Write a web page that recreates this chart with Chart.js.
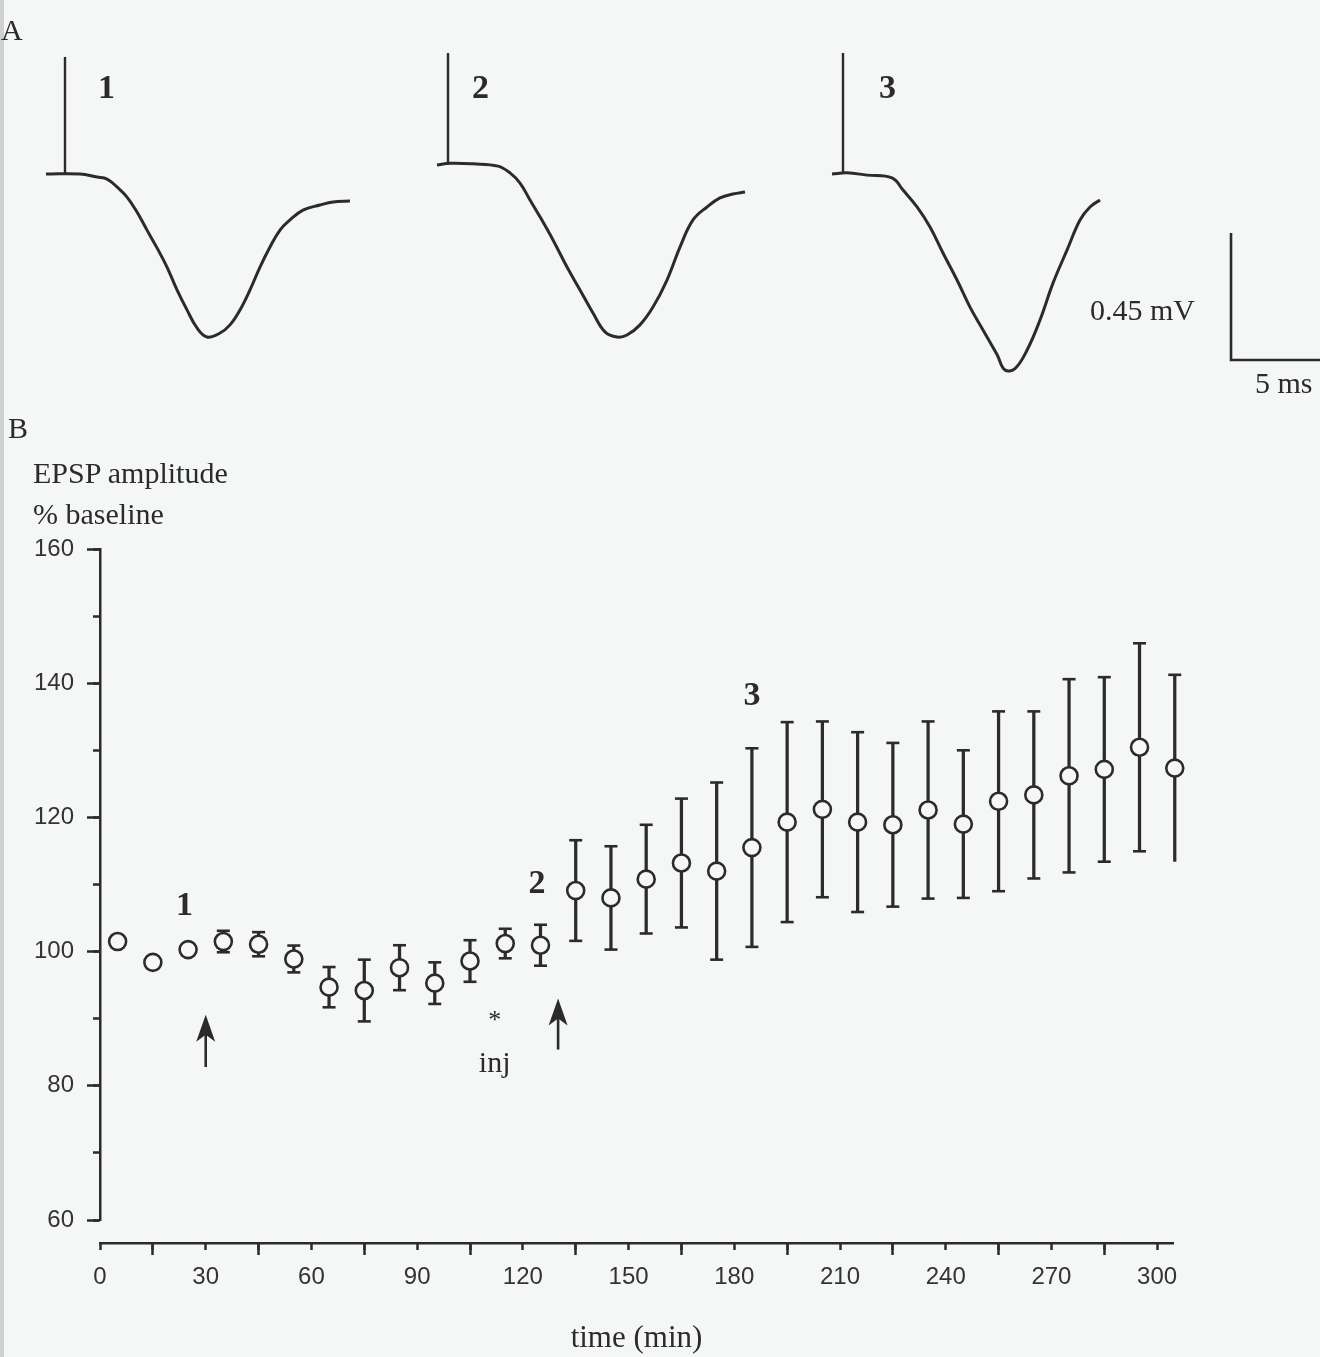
<!DOCTYPE html>
<html>
<head>
<meta charset="utf-8">
<script src="https://cdn.jsdelivr.net/npm/chart.js@4.4.1/dist/chart.umd.min.js"></script>
<style>
  html, body { margin: 0; padding: 0; background: #f5f6f6; }
  body { width: 1320px; height: 1357px; position: relative; overflow: hidden;
         font-family: 'Liberation Serif', 'Times New Roman', serif; color: #2b2b2b; }
  canvas { position: absolute; left: 0; }
  #traces { top: 0; }
  #timecourse { top: 400px; }
  .lbl { position: absolute; font-size: 30px; line-height: 1; white-space: nowrap; }
  .num { position: absolute; font-size: 34px; line-height: 1; font-weight: bold; }
  .edge { position: absolute; left: 0; top: 0; width: 4px; height: 100%; background: #cfd1d1; }
</style>
</head>
<body>
<div class="edge"></div>
<canvas id="traces" width="1320" height="400"></canvas>
<canvas id="timecourse" width="1320" height="957"></canvas>

<div class="lbl" style="left:1px; top:15px;">A</div>
<div class="num" style="left:98px; top:70px;">1</div>
<div class="num" style="left:472px; top:70px;">2</div>
<div class="num" style="left:879px; top:70px;">3</div>
<div class="lbl" id="mvLabel" style="left:1090px; top:295px;"></div>
<div class="lbl" id="msLabel" style="left:1255px; top:368px;"></div>

<div class="lbl" style="left:8px; top:413px;">B</div>
<div class="lbl" style="left:33px; top:458px;">EPSP amplitude</div>
<div class="lbl" style="left:33px; top:499px;">% baseline</div>

<script>
// ---- panel A: field EPSP sweeps (time in ms after stimulus, amplitude in mV) ----
const trace1Ms = [-0.95, 0.75, 1.6, 2.1, 2.6, 3.1, 3.6, 4.1, 4.6, 5.1, 5.6, 6.1, 6.6, 7.1, 7.75, 8.25, 8.75, 9.25, 9.75, 10.25, 10.75, 11.25, 11.9, 12.75, 13.4, 14.25];
const trace1Mv = [0, 0, -0.011, -0.018, -0.046, -0.082, -0.135, -0.199, -0.262, -0.330, -0.411, -0.482, -0.546, -0.578, -0.564, -0.535, -0.482, -0.411, -0.330, -0.259, -0.199, -0.163, -0.128, -0.110, -0.099, -0.096];
const trace2Ms = [-0.55, 0.1, 1.25, 2.5, 3.1, 3.6, 4.1, 4.6, 5.25, 5.95, 6.6, 7.25, 7.85, 8.45, 8.95, 9.6, 10.25, 10.95, 11.6, 12.25, 12.95, 13.6, 14.25, 14.85];
const trace2Mv = [0, 0.006, 0.004, -0.004, -0.028, -0.064, -0.124, -0.184, -0.266, -0.362, -0.443, -0.525, -0.592, -0.610, -0.603, -0.567, -0.504, -0.408, -0.291, -0.195, -0.149, -0.117, -0.103, -0.096];
const trace3Ms = [-0.55, 0.2, 1.2, 2.45, 3.0, 3.7, 4.35, 5.0, 5.7, 6.35, 7.0, 7.7, 8.1, 8.6, 9.2, 9.85, 10.5, 11.2, 11.85, 12.35, 12.85];
const trace3Mv = [0, 0.004, -0.004, -0.014, -0.057, -0.117, -0.188, -0.280, -0.376, -0.472, -0.553, -0.640, -0.695, -0.690, -0.625, -0.518, -0.387, -0.270, -0.163, -0.117, -0.092];
const artifactMv = [0.415, 0.397, 0.429];   // truncated stimulus artefacts
const scaleBarMv = 0.45;
const scaleBarMs = 5;

// ---- panel B: EPSP amplitude over time ----
const times = [5, 15, 25, 35, 45, 55, 65, 75, 85, 95, 105, 115, 125, 135, 145, 155, 165, 175, 185, 195, 205, 215, 225, 235, 245, 255, 265, 275, 285, 295, 305];
const epsp = [101.5, 98.4, 100.3, 101.5, 101.1, 98.9, 94.7, 94.2, 97.6, 95.3, 98.6, 101.2, 100.95, 109.1, 108.0, 110.8, 113.2, 112.0, 115.5, 119.3, 121.2, 119.3, 118.9, 121.1, 119.0, 122.4, 123.35, 126.2, 127.15, 130.45, 127.35];
const sem = [0.5, 0.5, 0.8, 1.6, 1.8, 2.0, 3.0, 4.6, 3.35, 3.1, 3.1, 2.2, 3.05, 7.5, 7.7, 8.1, 9.6, 13.2, 14.8, 14.9, 13.1, 13.4, 12.2, 13.2, 11.0, 13.4, 12.45, 14.4, 13.75, 15.5, 13.9];
const xTicks = [0, 30, 60, 90, 120, 150, 180, 210, 240, 270, 300];
const xMinorTicks = [0, 15, 30, 45, 60, 75, 90, 105, 120, 135, 150, 165, 180, 195, 210, 225, 240, 255, 270, 285, 300];
const yTicks = [60, 80, 100, 120, 140, 160];
const yMinorTicks = [60, 70, 80, 90, 100, 110, 120, 130, 140, 150, 160];

const ink = '#2b2b2b';
const paper = '#f5f6f6';

document.getElementById('mvLabel').textContent = scaleBarMv + ' mV';
document.getElementById('msLabel').textContent = scaleBarMs + ' ms';

// where each sweep sits on the panel (ms, mV in panel units)
const sweepAnchors = [{x: 3.25, y: -0.617}, {x: 22.4, y: -0.585}, {x: 42.15, y: -0.617}];
const scaleBarCorner = {x: 61.55, y: -1.2766};

const sweeps = [[trace1Ms, trace1Mv], [trace2Ms, trace2Mv], [trace3Ms, trace3Mv]];
const traceSets = [];
sweeps.forEach(([ms, mv], i) => {
  const a = sweepAnchors[i];
  traceSets.push({
    data: ms.map((t, j) => ({x: a.x + t, y: a.y + mv[j]})),
    showLine: true, tension: 0.4,
    borderColor: ink, borderWidth: 3, pointRadius: 0
  });
  traceSets.push({
    data: [{x: a.x, y: a.y}, {x: a.x, y: a.y + artifactMv[i]}],
    showLine: true, borderColor: ink, borderWidth: 2.4, pointRadius: 0
  });
});
traceSets.push({
  data: [
    {x: scaleBarCorner.x, y: scaleBarCorner.y + scaleBarMv},
    {x: scaleBarCorner.x, y: scaleBarCorner.y},
    {x: scaleBarCorner.x + scaleBarMs, y: scaleBarCorner.y}
  ],
  showLine: true, borderColor: ink, borderWidth: 2.6, pointRadius: 0, borderJoinStyle: 'miter'
});

new Chart(document.getElementById('traces'), {
  type: 'scatter',
  data: {datasets: traceSets},
  options: {
    responsive: false, animation: false,
    layout: {padding: 0},
    plugins: {legend: {display: false}, tooltip: {enabled: false}},
    scales: {
      x: {type: 'linear', display: false, min: 0, max: 66},
      y: {type: 'linear', display: false, min: -400 / 282, max: 0}
    }
  }
});

// arrows (stimulus) and marks on the time course
const stimArrows = [{t: 30, from: 82.8, to: 90.6}, {t: 130, from: 85.4, to: 93.0}];
const plotMarks = [
  {text: '1', t: 24, v: 106.7, font: 'bold 34px "Liberation Serif"'},
  {text: '2', t: 124, v: 110.0, font: 'bold 34px "Liberation Serif"'},
  {text: '3', t: 185, v: 138.1, font: 'bold 34px "Liberation Serif"'},
  {text: '*', t: 112, v: 89.6, font: '26px "Liberation Serif"'},
  {text: 'inj', t: 112, v: 83.3, font: '30px "Liberation Serif"'}
];

const marksPlugin = {
  id: 'marks',
  afterDatasetsDraw(chart) {
    const {ctx, scales: {x, y}} = chart;
    ctx.save();
    ctx.fillStyle = ink;
    ctx.strokeStyle = ink;
    ctx.lineWidth = 2.6;
    stimArrows.forEach(a => {
      const px = x.getPixelForValue(a.t);
      const tip = y.getPixelForValue(a.to);
      const tail = y.getPixelForValue(a.from);
      ctx.beginPath();
      ctx.moveTo(px, tail);
      ctx.lineTo(px, tip + 18);
      ctx.stroke();
      ctx.beginPath();
      ctx.moveTo(px, tip);
      ctx.lineTo(px + 9.5, tip + 27);
      ctx.lineTo(px, tip + 20);
      ctx.lineTo(px - 9.5, tip + 27);
      ctx.closePath();
      ctx.fill();
    });
    ctx.textAlign = 'center';
    ctx.textBaseline = 'middle';
    plotMarks.forEach(m => {
      ctx.font = m.font;
      ctx.fillText(m.text, x.getPixelForValue(m.t), y.getPixelForValue(m.v));
    });
    ctx.restore();
  }
};

const tickFont = {family: '"Liberation Sans", Arial, sans-serif', size: 24};

new Chart(document.getElementById('timecourse'), {
  type: 'scatter',
  data: {
    datasets: [
      {
        // mean EPSP amplitude
        data: times.map((t, i) => ({x: t, y: epsp[i]})),
        pointStyle: 'circle', pointRadius: 8.5, borderWidth: 2.6,
        borderColor: ink, backgroundColor: paper, order: 0, clip: false
      },
      {
        // SEM caps
        data: times.flatMap((t, i) => [{x: t, y: epsp[i] + sem[i]}, {x: t, y: epsp[i] - sem[i]}]),
        pointStyle: 'line', pointRadius: 6.5, borderWidth: 2.6,
        borderColor: ink, order: 1, clip: false
      },
      {
        // SEM bars
        type: 'bar',
        data: times.map((t, i) => ({x: t, y: [epsp[i] - sem[i], epsp[i] + sem[i]]})),
        backgroundColor: ink, barThickness: 2.6, borderWidth: 0, order: 2, clip: false
      }
    ]
  },
  options: {
    responsive: false, animation: false,
    layout: {padding: {top: 149, right: 147, bottom: 0, left: 0}},
    plugins: {legend: {display: false}, tooltip: {enabled: false}},
    scales: {
      x: {
        type: 'linear', position: 'bottom', weight: 2, min: 0, max: 304.5, offset: false,
        afterBuildTicks: s => { s.ticks = xTicks.map(v => ({value: v})); },
        afterFit: s => { s.height = 114; },
        grid: {drawOnChartArea: false, drawTicks: true, tickLength: 12, tickWidth: 2.5, tickColor: ink},
        border: {display: true, color: ink, width: 2.5},
        ticks: {font: tickFont, color: '#333', padding: 8, maxRotation: 0, autoSkip: false},
        title: {display: true, text: 'time (min)', color: ink,
                font: {family: '"Liberation Serif", serif', size: 31}, padding: {top: 0, bottom: 0}}
      },
      xMinor: {
        type: 'linear', position: 'bottom', weight: 1, min: 0, max: 304.5, offset: false,
        afterBuildTicks: s => { s.ticks = xMinorTicks.map(v => ({value: v})); },
        afterFit: s => { s.height = 0; },
        grid: {drawOnChartArea: false, drawTicks: true, tickLength: 7, tickWidth: 2.5, tickColor: ink},
        border: {display: false},
        ticks: {display: false}
      },
      xGap: {
        type: 'linear', position: 'bottom', weight: 0, min: 0, max: 304.5,
        afterFit: s => { s.height = 23; },
        grid: {display: false}, border: {display: false}, ticks: {display: false}
      },
      y: {
        type: 'linear', position: 'left', weight: 1, min: 60, max: 160,
        afterBuildTicks: s => { s.ticks = yTicks.map(v => ({value: v})); },
        afterFit: s => { s.width = 100; },
        grid: {drawOnChartArea: false, drawTicks: true, tickLength: 13, tickWidth: 2.5, tickColor: ink},
        border: {display: true, color: ink, width: 2.5},
        ticks: {font: tickFont, color: '#333', padding: 13}
      },
      yMinor: {
        type: 'linear', position: 'left', weight: 0, min: 60, max: 160,
        afterBuildTicks: s => { s.ticks = yMinorTicks.map(v => ({value: v})); },
        afterFit: s => { s.width = 0; },
        grid: {drawOnChartArea: false, drawTicks: true, tickLength: 7, tickWidth: 2.5, tickColor: ink},
        border: {display: false},
        ticks: {display: false}
      }
    }
  },
  plugins: [marksPlugin]
});
</script>
</body>
</html>
